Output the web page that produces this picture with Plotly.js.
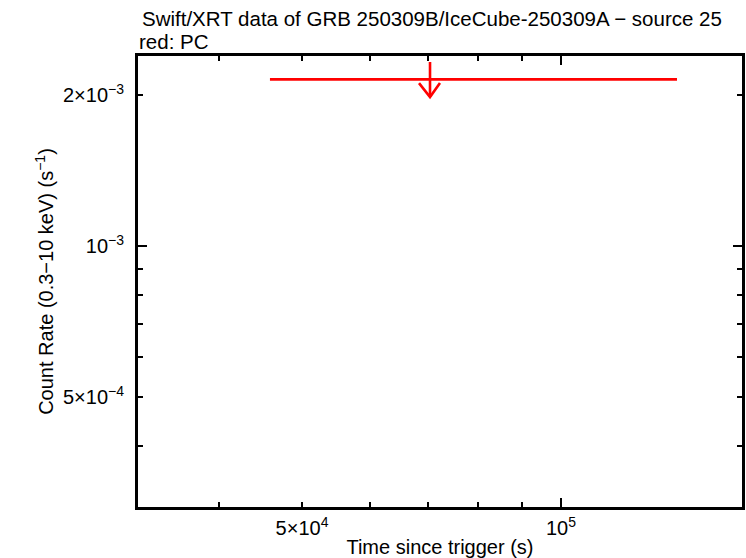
<!DOCTYPE html>
<html>
<head>
<meta charset="utf-8">
<script src="https://cdn.plot.ly/plotly-3.0.1.min.js"></script>
<style>html,body{margin:0;padding:0;background:#fff;} #chart{width:746px;height:558px;}</style>
</head>
<body>
<div id="chart"></div>
<script>
// Data (PC mode upper limit)
const timeSec = [70430];
const timeErrMinus = [24540];
const timeErrPlus = [65970];
const rateUpperLimit = [2.149e-3];

// Tick values and labels
const xTickVals = [5e4, 1e5];
const xTickText = ['5×10<sup>4</sup>', '10<sup>5</sup>'];
const xMinorTicks = [4e4, 6e4, 7e4, 8e4, 9e4];
const xLongTicks = [1e5];
const yTickVals = [5e-4, 1e-3, 2e-3];
const yTickText = ['5×10<sup>−4</sup>', '10<sup>−3</sup>', '2×10<sup>−3</sup>'];
const yMinorTicks = [4e-4, 6e-4, 7e-4, 8e-4, 9e-4];
const yLongTicks = [1e-3];

const xRange = [4.50836, 5.21037];
const yRange = [-3.5203, -2.6212];

const FONT = '"Liberation Sans", Arial, sans-serif';
const red = '#ff0000';

// Arrow geometry factors (styling of upper-limit arrow)
const tailF = 1.083, tipF = 0.922, wingYF = 0.983, wingXL = 0.971, wingXR = 1.027;

const traces = [];
traces.push({
  x: timeSec, y: rateUpperLimit, type: 'scatter', mode: 'markers',
  marker: {size: 0.1, color: red},
  error_x: {type: 'data', array: timeErrPlus, arrayminus: timeErrMinus, symmetric: false,
            color: red, thickness: 2.6, width: 0},
  hoverinfo: 'skip', showlegend: false
});
timeSec.forEach((t, i) => {
  const r = rateUpperLimit[i];
  traces.push({
    x: [t, t, null, t * wingXL, t, t * wingXR],
    y: [r * tailF, r * tipF, null, r * wingYF, r * tipF, r * wingYF],
    type: 'scatter', mode: 'lines', line: {color: red, width: 2.6},
    hoverinfo: 'skip', showlegend: false
  });
});
// invisible trace for overlay axes
traces.push({x: [1e5], y: [1e-3], xaxis: 'x2', yaxis: 'y2', type: 'scatter', mode: 'markers',
  marker: {size: 0.1, opacity: 0}, hoverinfo: 'skip', showlegend: false});

const axisCommon = {
  type: 'log', showgrid: false, zeroline: false, showline: true, linecolor: '#000', linewidth: 3,
  ticks: 'inside', tickcolor: '#000', tickwidth: 2, mirror: 'allticks', ticklen: 5,
  tickfont: {family: FONT, size: 20, color: '#000'}, tickmode: 'array'
};

const layout = {
  width: 746, height: 558,
  margin: {l: 138, r: 4, t: 56, b: 51},
  paper_bgcolor: '#fff', plot_bgcolor: '#fff',
  font: {family: FONT, color: '#000'},
  title: {
    text: 'Swift/XRT data of GRB 250309B/IceCube-250309A − source 25',
    font: {family: FONT, size: 20.5, color: '#000'},
    xref: 'container', yref: 'container', x: 142 / 746, xanchor: 'left',
    y: 1 - 12 / 558, yanchor: 'top'
  },
  annotations: [{
    text: 'red: PC', xref: 'paper', yref: 'paper', x: -0.002, xanchor: 'left',
    y: 1, yshift: 28, yanchor: 'top', showarrow: false,
    font: {family: FONT, size: 20.5, color: '#000'}
  }],
  xaxis: Object.assign({}, axisCommon, {
    range: xRange, tickvals: xTickVals, ticktext: xTickText,
    minor: {tickmode: 'array', tickvals: xMinorTicks, ticks: 'inside', ticklen: 5, tickwidth: 2, tickcolor: '#000', showgrid: false},
    ticklabelstandoff: 1,
    title: {text: 'Time since trigger (s)', font: {family: FONT, size: 20, color: '#000'}, standoff: 3}
  }),
  yaxis: Object.assign({}, axisCommon, {
    range: yRange, tickvals: yTickVals, ticktext: yTickText,
    minor: {tickmode: 'array', tickvals: yMinorTicks, ticks: 'inside', ticklen: 5, tickwidth: 2, tickcolor: '#000', showgrid: false},
    ticklabelstandoff: 7,
    title: {text: 'Count Rate (0.3−10 keV) (s<sup>−1</sup>)', font: {family: FONT, size: 20, color: '#000'}, standoff: 4}
  }),
  xaxis2: {type: 'log', overlaying: 'x', anchor: 'y', range: xRange, showgrid: false, zeroline: false,
    showline: false, ticks: 'inside', ticklen: 9, tickwidth: 2, tickcolor: '#000', mirror: 'allticks',
    tickmode: 'array', tickvals: xLongTicks, showticklabels: false},
  yaxis2: {type: 'log', overlaying: 'y', anchor: 'x', range: yRange, showgrid: false, zeroline: false,
    showline: false, ticks: 'inside', ticklen: 9, tickwidth: 2, tickcolor: '#000', mirror: 'allticks',
    tickmode: 'array', tickvals: yLongTicks, showticklabels: false}
};

Plotly.newPlot('chart', traces, layout, {displayModeBar: false, staticPlot: true});
</script>
</body>
</html>
